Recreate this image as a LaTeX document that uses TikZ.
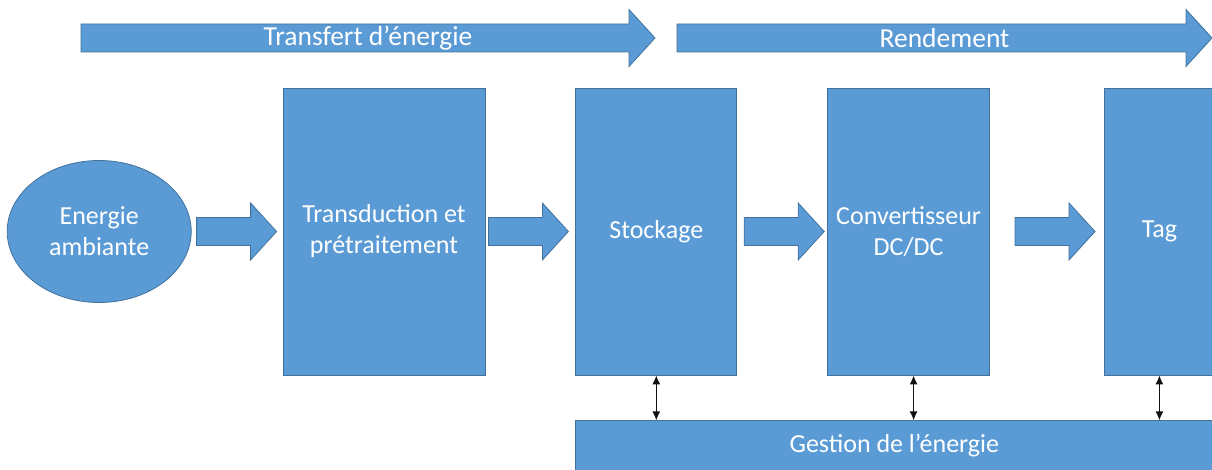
\documentclass[tikz,border=0pt]{standalone}
\usepackage{fontspec}
\setmainfont{Carlito}
\usetikzlibrary{arrows.meta,positioning,shapes.geometric,calc}
\definecolor{blockfill}{HTML}{5B9BD5}
\definecolor{blockline}{HTML}{41719C}
\definecolor{ink}{HTML}{111111}

% block arrow from point #1 to tip #2
\newcommand{\flowarrow}[2]{%
  \path[flowshape] let \p1=(#1), \p2=(#2) in
    (\x1,\y1+14pt) -- (\x2-26pt,\y1+14pt) -- (\x2-26pt,\y1+28.5pt) -- (\x2,\y1)
    -- (\x2-26pt,\y1-28.5pt) -- (\x2-26pt,\y1-14pt) -- (\x1,\y1-14pt) -- cycle;}

\begin{document}
\begin{tikzpicture}[
  x=1pt,y=-1pt,
  every node/.style={font=\fontsize{26}{31}\selectfont,align=center,text=white},
  block/.style={draw=blockline,fill=blockfill,line width=0.8pt,inner sep=0pt,
    minimum height=287pt},
  flowshape/.style={draw=blockline,fill=blockfill,line width=0.8pt},
  bandlabel/.style={font=\fontsize{27.5}{32}\selectfont},
  link/.style={{Latex[length=9pt,width=8pt]}-{Latex[length=9pt,width=8pt]},
    line width=1.4pt,draw=ink}
]
\useasboundingbox (0,0) rectangle (1212,470);

\node[block,minimum width=202pt] (trans) at (384,231.5) {Transduction et\\prétraitement};
\node[block,ellipse,minimum width=184pt,minimum height=142pt,left=91pt of trans] (amb) {Energie\\ambiante};
\node[block,minimum width=161pt,right=90pt of trans] (stock) {Stockage};
\node[block,minimum width=162pt,right=90pt of stock] (conv) {Convertisseur\\DC/DC};
\node[block,minimum width=110pt,right=114pt of conv] (tag) {Tag};
\node[block,anchor=north west,minimum width=637pt,minimum height=50pt]
  (gest) at ($(stock.south west)+(0,45)$) {Gestion de l’énergie};

% main flow
\flowarrow{$(amb.east)+(5,0)$}{$(trans.west)-(6,0)$}
\flowarrow{$(trans.east)+(3,0)$}{$(stock.west)-(7,0)$}
\flowarrow{$(stock.east)+(7,0)$}{$(conv.west)-(3,0)$}
\flowarrow{$(conv.east)+(25,0)$}{$(tag.west)-(9,0)$}

% top bands
\coordinate (transfertstart) at (81,38);
\coordinate (transfertend) at (655,38);
\coordinate (rendstart) at (677,38);
\coordinate (rendend) at (1212,38);
\flowarrow{transfertstart}{transfertend}
\flowarrow{rendstart}{rendend}
\node[bandlabel] (ltransfert) at ($(transfertstart)!0.5!(transfertend)$) {Transfert d’énergie};
\node[bandlabel] (lrend) at ($(rendstart)!0.5!(rendend)$) {Rendement};

% energy management links
\draw[link] (stock.south) -- (stock.south |- gest.north);
\draw[link] ($(conv.south)+(5,0)$) -- ($(conv.south |- gest.north)+(5,0)$);
\draw[link] (tag.south) -- (tag.south |- gest.north);
\end{tikzpicture}
\end{document}
